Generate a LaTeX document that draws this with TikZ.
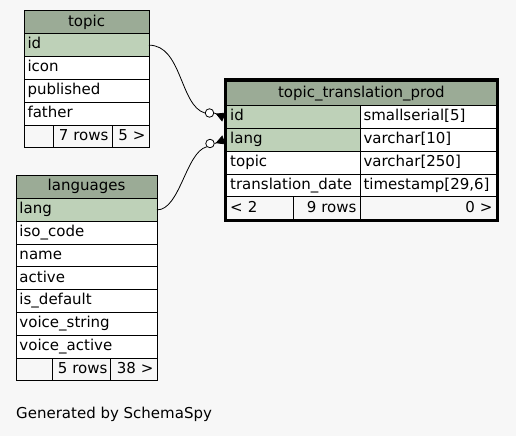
\documentclass[tikz,border=0pt]{standalone}
\usepackage{fontspec}
\setmainfont{DejaVu Sans}
\usepackage{tikz}
\usetikzlibrary{
    arrows.meta,
    positioning,
    fit
}
\definecolor{pagebg}{HTML}{F7F7F7}
\definecolor{headgreen}{HTML}{9BAB96}
\definecolor{keygreen}{HTML}{BED1B8}

\begin{document}
\begin{tikzpicture}[
    x=1pt, y=-1pt,
    cell/.style={draw=black, line width=1pt, fill=white, anchor=north west, minimum height=22.8pt,
        inner xsep=3.5pt, inner ysep=0pt, outer sep=0pt, text height=11pt, text depth=3.5pt,
        align=left, font=\fontsize{15}{18}\selectfont},
    head/.style={cell, fill=headgreen, align=center},
    key/.style={cell, fill=keygreen},
    foot/.style={cell, fill=pagebg, align=right},
    odot/.style={circle, draw=black, line width=0.8pt, fill=white, minimum size=8.5pt, inner sep=0pt},
    fk/.style={line width=0.8pt},
    crow/.style={-{Triangle[reversed, length=9pt, width=9.5pt]}, line width=0.8pt},
]
    \fill[pagebg] (0,0) rectangle (516,436);
    \useasboundingbox (0,0) rectangle (516,436);

    % topic
    \node[head, text width=118pt] (tp) at (24,11) {topic};
    \node[key, text width=118pt] (tp-id) at (24,33.8) {id};
    \foreach \col [count=\i] in {icon, published, father}
        \node[cell, text width=118pt] (tp-\i) at (24,33.8+22.8*\i) {\col};
    \node[foot, text width=22pt] (tp-f1) at (24,125) {};
    \node[foot, text width=52pt] (tp-f2) at (53,125) {7 rows};
    \node[foot, text width=30pt] (tp-f3) at (112,125) {5 >};

    % languages
    \node[head, text width=134pt] (lg) at (16,175.7) {languages};
    \node[key, text width=134pt] (lg-lang) at (16,198.5) {lang};
    \foreach \col [count=\i] in {iso\_code, name, active, is\_default, voice\_string, voice\_active}
        \node[cell, text width=134pt] (lg-\i) at (16,198.5+22.8*\i) {\col};
    \node[foot, text width=29pt] (lg-f1) at (16,358.1) {};
    \node[foot, text width=52pt] (lg-f2) at (52,358.1) {5 rows};
    \node[foot, text width=39.3pt] (lg-f3) at (110.7,358.1) {38 >};

    % topic_translation_prod
    \node[head, text width=262.3pt, minimum height=24.7pt] (tr) at (226.7,81) {topic\_translation\_prod};
    \node[key, text width=126.3pt] (tr-id) at (226.7,105.7) {id};
    \node[cell, text width=129pt] (tr-idt) at (360,105.7) {smallserial[5]};
    \node[key, text width=126.3pt] (tr-lang) at (226.7,128.5) {lang};
    \node[cell, text width=129pt] (tr-langt) at (360,128.5) {varchar[10]};
    \node[cell, text width=126.3pt] (tr-topic) at (226.7,151.3) {topic};
    \node[cell, text width=129pt] (tr-topict) at (360,151.3) {varchar[250]};
    \node[cell, text width=126.3pt] (tr-date) at (226.7,174.1) {translation\_date};
    \node[cell, text width=129pt] (tr-datet) at (360,174.1) {timestamp[29,6]};
    \node[foot, align=left, text width=59.3pt] (tr-f1) at (226.7,196.9) {< 2};
    \node[foot, text width=60pt] (tr-f2) at (293,196.9) {9 rows};
    \node[foot, text width=129pt] (tr-f3) at (360,196.9) {0 >};
    \node[draw=black, line width=2.7pt, inner sep=1.35pt, fit=(tr)(tr-f3)] (tr-box) {};

    % foreign keys
    \node[odot] (o1) at (209.5,113) {};
    \node[odot] (o2) at (210,143.5) {};
    \draw[fk] (tp-id.east) .. controls (182,45) and (180,106) .. (o1.west);
    \draw[crow] (o1.east) -- ([xshift=-2.7pt]tr-id.west);
    \draw[fk] (lg-lang.east) .. controls (180,210) and (186,152) .. (o2.south west);
    \draw[crow] (o2.east) -- ([xshift=-2.7pt]tr-lang.west);

    \node[anchor=base west, inner sep=0pt, font=\fontsize{15}{18}\selectfont] (credit) at (16,418.5) {Generated by SchemaSpy};
\end{tikzpicture}
\end{document}
